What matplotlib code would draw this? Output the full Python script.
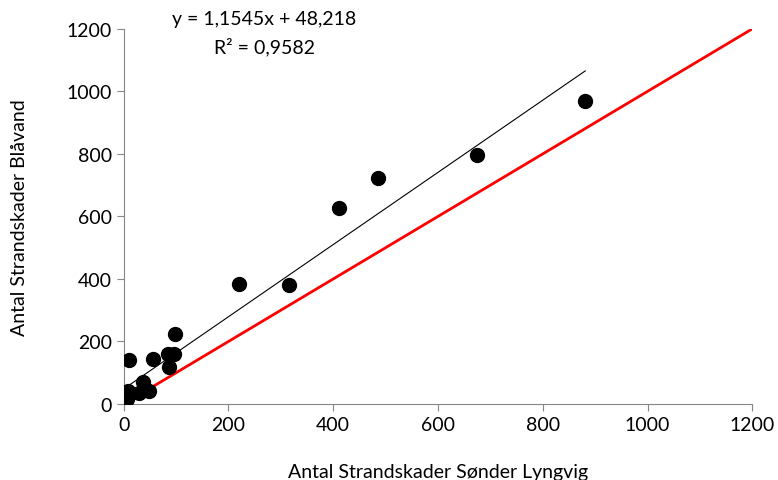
import matplotlib.pyplot as plt

# Antal strandskader: Sønder Lyngvig (x) vs. Blåvand (y)
lyngvig = [881, 675, 485, 411, 315, 220, 97, 96, 84, 86, 55, 11, 36, 48, 29, 8, 6, 5]
blaavand = [970, 797, 723, 627, 381, 384, 224, 160, 160, 118, 144, 141, 70, 42, 35, 42, 16, 29]

# Lineær tendenslinje (fra Excel)
slope = 1.1545
intercept = 48.218

plt.rcParams['font.family'] = ['Lato', 'DejaVu Sans']

fig = plt.figure(figsize=(7.78, 4.81), dpi=100)
ax = fig.add_axes([0.159, 0.158, 0.808, 0.780])

# y = x reference line
ax.plot([0, 1200], [0, 1200], color="#ff0000", linewidth=2, zorder=2)

# trend line over the data range
x0, x1 = min(lyngvig), max(lyngvig)
ax.plot([x0, x1], [slope * x0 + intercept, slope * x1 + intercept],
        color="black", linewidth=0.8, zorder=3)

ax.scatter(lyngvig, blaavand, s=100, color="black", zorder=4)

ax.set_xlim(0, 1200)
ax.set_ylim(0, 1200)
ax.set_xticks(range(0, 1201, 200))
ax.set_yticks(range(0, 1201, 200))

for side in ["top", "right"]:
    ax.spines[side].set_visible(False)
for side in ["left", "bottom"]:
    ax.spines[side].set_color("#868686")
ax.tick_params(colors="#868686", labelcolor="black", labelsize=14, length=5)

ax.set_xlabel("Antal Strandskader Sønder Lyngvig", fontsize=14, labelpad=22)
ax.set_ylabel("Antal Strandskader Blåvand", fontsize=14, labelpad=28)

ax.text(269, 1234, f"y = {slope:.4f}x + {intercept:.3f}".replace(".", ","),
        ha="center", va="center", fontsize=14, clip_on=False)
ax.text(269, 1144, "R² = 0,9582", ha="center", va="center", fontsize=14, clip_on=False)

fig.savefig("out.png", dpi=100)
